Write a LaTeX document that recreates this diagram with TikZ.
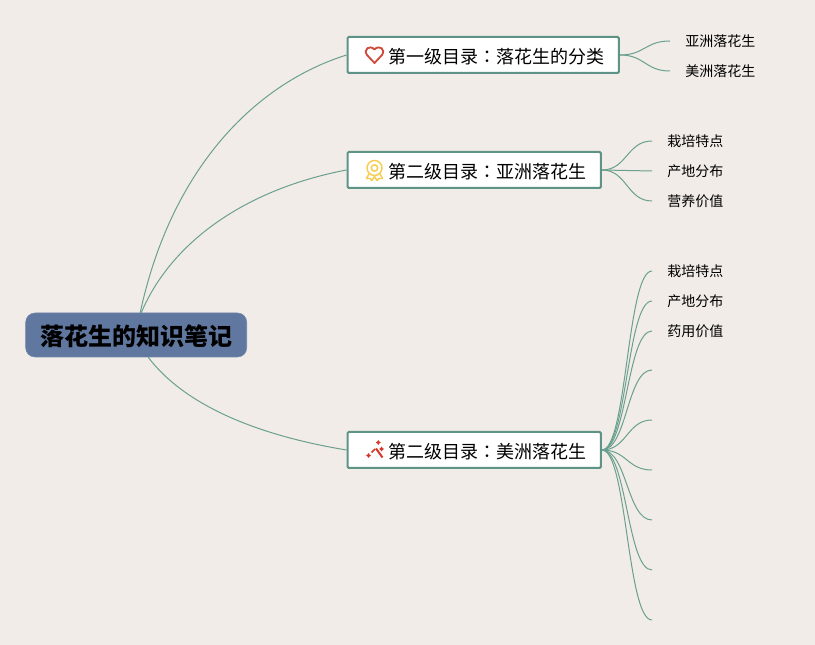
\documentclass[tikz,border=0pt]{standalone}
\usepackage{fontspec}
\usepackage{xcolor}
\setmainfont{Noto Sans CJK SC}
\newfontfamily\cjktc{Noto Sans CJK TC}
\newcommand{\colonmark}{{\cjktc ：}}
\definecolor{paperbg}{RGB}{241, 236, 231}
\definecolor{rootblue}{RGB}{96, 119, 160}
\definecolor{topicgreen}{RGB}{94, 148, 135}
\definecolor{linkgreen}{RGB}{106, 160, 143}
\definecolor{heartred}{RGB}{207, 76, 60}
\definecolor{medalyellow}{RGB}{246, 205, 80}
\definecolor{wandred}{RGB}{214, 56, 44}
\tikzset{
    rootbox/.style={fill=rootblue, draw=rootblue!90!white, rounded corners=7pt, inner xsep=10.9pt, inner ysep=0pt, text height=16.2pt, text depth=0.3pt, minimum height=33pt, font=\fontsize{18pt}{22pt}\selectfont\bfseries},
    topicbox/.style={anchor=west, fill=white, draw=topicgreen, line width=1.5pt, rounded corners=1pt, inner xsep=10.5pt, inner ysep=0pt, text height=12.8pt, text depth=0.3pt, minimum height=27pt, font=\fontsize{13.5pt}{16pt}\selectfont},
    leafbox/.style={anchor=west, inner xsep=11.25pt, inner ysep=1pt, font=\fontsize{10.5pt}{13pt}\selectfont},
    link/.style={draw=linkgreen, line width=0.75pt},
    fan/.style={link, out=0, in=180, distance=18.75pt}
}
\begin{document}
\begin{tikzpicture}[x=0.75pt, y=-0.75pt]
    \fill[paperbg] (0,0) rectangle (815,645);
    \useasboundingbox (0,0) rectangle (815,645);

    \node[rootbox] (root) at (136.2,335) {落花生的知识笔记};
    \node[topicbox] (peanutkinds) at (346.5,55) {\hspace*{20.6pt}第一级目录\colonmark 落花生的分类};
    \node[topicbox] (asiapeanut) at (346.5,170) {\hspace*{20.6pt}第二级目录\colonmark 亚洲落花生};
    \node[topicbox] (usapeanut) at (346.5,450) {\hspace*{20.6pt}第二级目录\colonmark 美洲落花生};

    \draw[link] ([xshift=3pt]root.north) .. controls +(30,-140) and +(-95,30) .. (peanutkinds.west);
    \draw[link] ([xshift=3.75pt]root.north) .. controls +(32,-75) and +(-95,18) .. (asiapeanut.west);
    \draw[link] ([xshift=9pt]root.south) .. controls +(38,50) and +(-85,-14) .. (usapeanut.west);

    \node[leafbox] (kindasia) at (670,41) {亚洲落花生};
    \node[leafbox] (kindusa) at (670,71) {美洲落花生};
    \node[leafbox] (asiagrow) at (652,141) {栽培特点};
    \node[leafbox] (asiaarea) at (652,171) {产地分布};
    \node[leafbox] (asiavalue) at (652,201) {营养价值};
    \node[leafbox] (usagrow) at (652,271) {栽培特点};
    \node[leafbox] (usaarea) at (652,301) {产地分布};
    \node[leafbox] (usavalue) at (652,331) {药用价值};
    \coordinate (usaleafa) at (652,370);
    \coordinate (usaleafb) at (652,420);
    \coordinate (usaleafc) at (652,470);
    \coordinate (usaleafd) at (652,520);
    \coordinate (usaleafe) at (652,570);
    \coordinate (usaleaff) at (652,620);

    \foreach \leaf in {kindasia, kindusa}
        \draw[fan] (peanutkinds.east) to (\leaf.west);
    \foreach \leaf in {asiagrow, asiaarea, asiavalue}
        \draw[fan] (asiapeanut.east) to (\leaf.west);
    \foreach \leaf in {usagrow.west, usaarea.west, usavalue.west, usaleafa, usaleafb, usaleafc, usaleafd, usaleafe, usaleaff}
        \draw[fan] (usapeanut.east) to (\leaf);

    % icons
    \draw[heartred, line width=1.4pt, line join=round] (374.5,63) -- (367,55) .. controls (363,49) and (370,44.5) .. (374.5,49.5) .. controls (379,44.5) and (386,49) .. (382,55) -- cycle;

    \draw[medalyellow, line width=1.1pt] (374.5,168) circle (7.5);
    \draw[medalyellow, line width=1.1pt] (374.5,168) circle (3.2);
    \draw[medalyellow, line width=1.1pt, line join=round] (369,174) -- (366.5,178.5) -- (370,178.5) -- (372,180.5) -- (374.5,176.5) -- (377,180.5) -- (379,178.5) -- (382.5,178.5) -- (380,174);

    \draw[wandred, line width=1.5pt] (376,448.5) -- (382.5,457.5);
    \draw[wandred, line width=1.2pt] (371.5,452.5) -- (375,449);
    \foreach \sparkx/\sparky in {378.3/442.5, 368.5/455.5, 381.5/449}
        \fill[wandred] (\sparkx,\sparky-2.5) -- (\sparkx+1,\sparky-1) -- (\sparkx+2.5,\sparky) -- (\sparkx+1,\sparky+1) -- (\sparkx,\sparky+2.5) -- (\sparkx-1,\sparky+1) -- (\sparkx-2.5,\sparky) -- (\sparkx-1,\sparky-1) -- cycle;
\end{tikzpicture}
\end{document}
